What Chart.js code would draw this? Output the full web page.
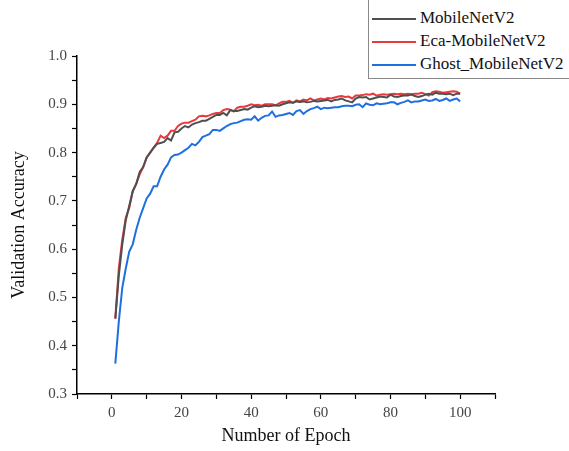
<!DOCTYPE html>
<html>
  <head>
    <title>Validation Accuracy</title>
    <script src="https://cdn.jsdelivr.net/npm/chart.js@4/dist/chart.umd.min.js"></script>
    <style>
      body { margin: 0; background: #fff; }
      .wrap { position: relative; width: 569px; height: 451px; overflow: hidden; }
      .legend {
        position: absolute; left: 368px; top: -1px; width: 230px;
        border: 1px solid #8a8a8a; background: #fff; padding: 6px 0 3px 0;
        font-family: "Liberation Serif", "Times New Roman", serif; font-size: 17px; color: #111;
      }
      .legend div { height: 23px; line-height: 23px; white-space: nowrap; }
      .legend span.line { display: inline-block; width: 44px; height: 2px; vertical-align: middle; margin: 0 4px 0 3px; }
    </style>
  </head>
  <body>
    <div class="wrap">
      <canvas id="accChart" width="569" height="451"></canvas>
      <div class="legend" id="legend"></div>
    </div>
    <script>
      // epochs 1..100
      const epochs = Array.from({length: 100}, (_, i) => i + 1);

      const mobileNetV2 = [
        0.456, 0.545, 0.610, 0.660, 0.690, 0.720, 0.735, 0.760, 0.770, 0.790,
        0.800, 0.810, 0.818, 0.820, 0.822, 0.830, 0.825, 0.842, 0.843, 0.850,
        0.855, 0.852, 0.858, 0.861, 0.863, 0.866, 0.866, 0.870, 0.874, 0.878,
        0.878, 0.882, 0.877, 0.888, 0.886, 0.886, 0.888, 0.890, 0.889, 0.893,
        0.896, 0.894, 0.895, 0.897, 0.896, 0.897, 0.898, 0.897, 0.900, 0.902,
        0.904, 0.903, 0.906, 0.905, 0.906, 0.904, 0.905, 0.907, 0.906, 0.907,
        0.908, 0.909, 0.906, 0.909, 0.910, 0.912, 0.908, 0.906, 0.904, 0.912,
        0.915, 0.914, 0.915, 0.910, 0.912, 0.914, 0.916, 0.915, 0.914, 0.920,
        0.916, 0.915, 0.917, 0.918, 0.918, 0.920, 0.917, 0.915, 0.917, 0.920,
        0.922, 0.920, 0.924, 0.922, 0.922, 0.921, 0.922, 0.919, 0.922, 0.922
      ];
      const ecaMobileNetV2 = [
        0.456, 0.560, 0.620, 0.665, 0.685, 0.720, 0.735, 0.755, 0.770, 0.790,
        0.800, 0.810, 0.820, 0.835, 0.830, 0.835, 0.845, 0.845, 0.855, 0.860,
        0.862, 0.862, 0.865, 0.868, 0.875, 0.876, 0.875, 0.877, 0.880, 0.882,
        0.882, 0.888, 0.890, 0.889, 0.885, 0.893, 0.895, 0.895, 0.897, 0.900,
        0.898, 0.899, 0.897, 0.900, 0.900, 0.900, 0.898, 0.902, 0.905, 0.905,
        0.907, 0.903, 0.908, 0.906, 0.910, 0.908, 0.912, 0.908, 0.910, 0.912,
        0.910, 0.913, 0.912, 0.914, 0.916, 0.917, 0.915, 0.916, 0.912, 0.918,
        0.918, 0.919, 0.921, 0.920, 0.922, 0.918, 0.920, 0.921, 0.920, 0.921,
        0.922, 0.921, 0.922, 0.921, 0.922, 0.921, 0.922, 0.922, 0.924, 0.921,
        0.918, 0.925, 0.927, 0.926, 0.924, 0.925, 0.926, 0.927, 0.926, 0.922
      ];
      const ghostMobileNetV2 = [
        0.363, 0.450, 0.520, 0.560, 0.595, 0.610, 0.640, 0.665, 0.685, 0.705,
        0.715, 0.730, 0.730, 0.750, 0.765, 0.775, 0.790, 0.795, 0.796, 0.800,
        0.805, 0.810, 0.818, 0.815, 0.822, 0.832, 0.835, 0.838, 0.847, 0.847,
        0.845, 0.850, 0.855, 0.859, 0.861, 0.862, 0.865, 0.868, 0.869, 0.868,
        0.875, 0.866, 0.872, 0.876, 0.877, 0.885, 0.874, 0.877, 0.878, 0.880,
        0.882, 0.878, 0.886, 0.888, 0.880, 0.886, 0.890, 0.892, 0.895, 0.890,
        0.893, 0.892, 0.893, 0.894, 0.894, 0.896, 0.897, 0.897, 0.896, 0.899,
        0.900, 0.894, 0.902, 0.899, 0.898, 0.902, 0.900, 0.901, 0.902, 0.904,
        0.904, 0.900, 0.903, 0.905, 0.908, 0.904, 0.906, 0.906, 0.908, 0.910,
        0.907, 0.908, 0.911, 0.907, 0.909, 0.912, 0.907, 0.910, 0.912, 0.906
      ];

      const seriesNames = ['MobileNetV2', 'Eca-MobileNetV2', 'Ghost_MobileNetV2'];
      const seriesColors = ['#4f4f4f', '#e8393e', '#1f6fe0'];
      const seriesValues = [mobileNetV2, ecaMobileNetV2, ghostMobileNetV2];

      const serif = '"Liberation Serif", "Times New Roman", serif';

      const datasets = seriesValues.map((vals, k) => ({
        label: seriesNames[k],
        data: epochs.map((e, i) => ({x: e, y: vals[i]})),
        borderColor: seriesColors[k],
        borderWidth: 2,
        pointRadius: 0,
        tension: 0,
        fill: false
      }));

      const accChart = new Chart(document.getElementById('accChart'), {
        type: 'line',
        data: { datasets: datasets },
        options: {
          responsive: false,
          animation: false,
          layout: { padding: { top: 56, right: 74, left: 0, bottom: 0 } },
          plugins: { legend: { display: false }, tooltip: { enabled: false } },
          scales: {
            x: {
              type: 'linear',
              min: -10,
              max: 110,
              afterFit: (s) => { s.height = 57; },
              border: { display: true, color: '#000', width: 1.5 },
              grid: { drawOnChartArea: false, drawTicks: true, tickLength: 5, color: '#000', tickWidth: 1.2 },
              ticks: {
                stepSize: 10,
                autoSkip: false,
                maxRotation: 0,
                padding: 5,
                color: '#444',
                font: { family: serif, size: 15 },
                callback: (v) => (v >= 0 && v <= 100 && v % 20 === 0) ? String(v) : ''
              },
              title: {
                display: true,
                text: 'Number of Epoch',
                color: '#111',
                font: { family: serif, size: 18 },
                padding: { top: 0, bottom: 4 }
              }
            },
            y: {
              min: 0.3,
              max: 1.0,
              afterFit: (s) => { s.width = 77; },
              border: { display: true, color: '#000', width: 1.5 },
              grid: { drawOnChartArea: false, drawTicks: true, tickLength: 5, color: '#000', tickWidth: 1.2 },
              ticks: {
                stepSize: 0.05,
                autoSkip: false,
                padding: 5,
                color: '#444',
                font: { family: serif, size: 15 },
                callback: (v) => (Math.round(v * 100) % 10 === 0) ? v.toFixed(1) : ''
              },
              title: {
                display: true,
                text: 'Validation Accuracy',
                color: '#111',
                font: { family: serif, size: 18 },
                padding: { top: 8, bottom: 0 }
              }
            }
          }
        }
      });

      // legend box, top right
      const legendEl = document.getElementById('legend');
      accChart.data.datasets.forEach((ds) => {
        const row = document.createElement('div');
        row.innerHTML = '<span class="line" style="background:' + ds.borderColor + '"></span>' + ds.label;
        legendEl.appendChild(row);
      });
    </script>
  </body>
</html>
